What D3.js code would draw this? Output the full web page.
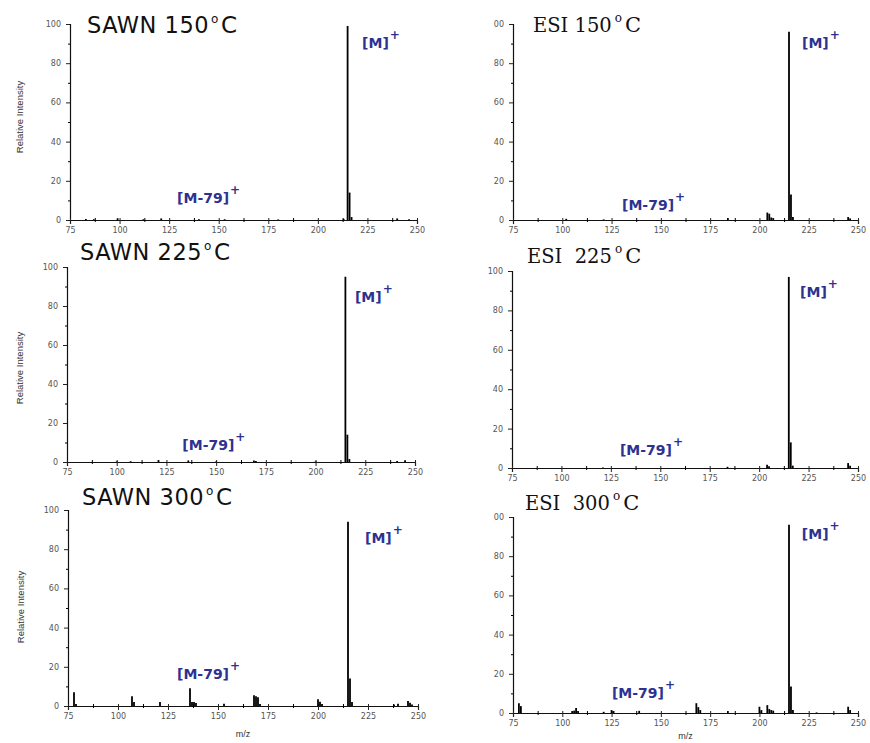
<!DOCTYPE html>
<html><head><meta charset="utf-8">
<script src="https://cdn.jsdelivr.net/npm/d3@7"></script>
<style>body{margin:0;background:#fff}svg{display:block}</style>
</head><body>
<svg id="c" width="870" height="743"></svg>
<script>
// ---- data ----
const xTicks = [75, 100, 125, 150, 175, 200, 225, 250];
const yTicks = [0, 20, 40, 60, 80, 100];
const panelNames = ["SAWN 150", "ESI 150", "SAWN 225", "ESI  225", "SAWN 300", "ESI  300"];
const labelM = "[M]";
const labelM79 = "[M-79]";
// peaks: [m/z, relative intensity]
const sawn150 = [[83,0.5],[87,0.4],[99,0.9],[112,0.4],[121,0.8],[140,0.4],[153,0.4],[180,0.3],[213,0.6],[215,99],[216,14],[217,1.5],[240,0.8],[246,0.4]];
const esi150  = [[102,0.6],[121,0.3],[184,1.0],[204,3.8],[205,3.2],[206,1.3],[207,1.0],[215,96],[216,13],[217,1.5],[245,1.5],[246,0.8]];
const sawn225 = [[100,0.3],[107,0.4],[121,1.0],[136,0.8],[150,0.3],[169,0.8],[170,0.5],[200,0.3],[215,95],[216,14],[217,1.5],[241,0.5],[245,0.9]];
const esi225  = [[121,0.3],[184,0.6],[204,1.6],[205,0.9],[215,97],[216,13],[217,1.2],[245,2.5],[246,1.2]];
const sawn300 = [[78,7],[79,1],[107,5],[108,2],[121,2],[136,9],[137,2],[138,2],[139,1.5],[153,1.2],[168,5.5],[169,5],[170,4.5],[171,1],[200,3.5],[201,2.2],[202,1],[215,94],[216,14],[217,2],[238,0.8],[240,1.2],[245,2.5],[246,1.6],[247,0.8]];
const esi300  = [[78,5],[79,3.5],[105,1],[106,1.2],[107,2.5],[108,1],[121,0.6],[125,1.5],[126,1],[139,1.1],[168,5],[169,3],[170,1.5],[184,1],[200,3.2],[201,1.5],[204,4],[205,2],[206,1.5],[207,1.2],[215,96],[216,13.5],[217,1.5],[229,0.3],[245,3.2],[246,1.5]];
const spectra = [sawn150, esi150, sawn225, esi225, sawn300, esi300];

// ---- layout (pixels / styling) ----
const layout = [
  {x0:70,  x1:417, yTop:24,  yBot:220, tx:87,  ty:33,  serif:false, m:[222.3,88], m79:[129,8.7],   ylab:117, ylx:20, xlab:null, clip:0},
  {x0:513, x1:858, yTop:24,  yBot:220, tx:533, ty:32,  serif:true,  m:[221.6,88], m79:[130.3,5],   ylab:null, xlab:null, clip:494},
  {x0:67,  x1:415, yTop:267, yBot:462, tx:80,  ty:260, serif:false, m:[219.8,82], m79:[133,6],     ylab:368, ylx:20, xlab:null, clip:0},
  {x0:512, x1:858, yTop:271, yBot:468, tx:527, ty:263, serif:true,  m:[220.7,87], m79:[129.6,6.6], ylab:null, xlab:null, clip:0},
  {x0:68,  x1:418, yTop:510, yBot:706, tx:82,  ty:505, serif:false, m:[223.5,83], m79:[129.5,14],  ylab:607, ylx:21, xlab:737, clip:0},
  {x0:513, x1:858, yTop:517, yBot:713, tx:525, ty:510, serif:true,  m:[221.5,89], m79:[125.2,7.6], ylab:null, xlab:739, clip:494}
];

const svg = d3.select("#c");
const navy = "#2d3190";
const tickFont = "Verdana, 'DejaVu Sans', sans-serif";

layout.forEach((L, i) => {
  const g0 = svg.append("g");
  if (L.clip) {
    svg.append("clipPath").attr("id", "clip" + i)
      .append("rect").attr("x", L.clip).attr("y", 0).attr("width", 870).attr("height", 743);
    g0.attr("clip-path", `url(#clip${i})`);
  }
  const x = d3.scaleLinear().domain([75, 250]).range([L.x0, L.x1]);
  const y = d3.scaleLinear().domain([0, 100]).range([L.yBot, L.yTop]);

  // y axis
  const ya = g0.append("g").attr("transform", `translate(${L.x0},0)`)
    .call(d3.axisLeft(y).tickValues(yTicks).tickSize(4).tickPadding(5));
  ya.selectAll("text").attr("font-size", 8).attr("font-family", tickFont).attr("fill", "#555");
  ya.select(".domain").attr("stroke", "#111").attr("stroke-width", 1.2);
  ya.selectAll(".tick line").attr("stroke", "#222");
  g0.append("g").attr("transform", `translate(${L.x0},0)`)
    .call(d3.axisLeft(y).tickValues([10,30,50,70,90]).tickSize(2).tickFormat(""))
    .select(".domain").remove();

  // x axis
  const xa = g0.append("g").attr("transform", `translate(0,${L.yBot})`)
    .call(d3.axisBottom(x).tickValues(xTicks).tickSize(4).tickPadding(3));
  xa.selectAll("text").attr("font-size", 8).attr("font-family", tickFont).attr("fill", "#555");
  xa.select(".domain").attr("stroke", "#111").attr("stroke-width", 1.2);
  xa.selectAll(".tick line").attr("y1", -2).attr("stroke", "#222");
  g0.append("g").attr("transform", `translate(0,${L.yBot})`)
    .call(d3.axisBottom(x).tickValues([87.5,112.5,137.5,162.5,187.5,212.5,237.5]).tickSize(2).tickFormat(""))
    .call(s => s.selectAll(".tick line").attr("y1", -2))
    .select(".domain").remove();

  // spectrum sticks
  g0.append("g").selectAll("line").data(spectra[i]).join("line")
    .attr("x1", d => x(d[0])).attr("x2", d => x(d[0]))
    .attr("y1", y(0)).attr("y2", d => y(d[1]))
    .attr("stroke", "#000").attr("stroke-width", 1.8);

  // title
  const t = g0.append("text").attr("x", L.tx).attr("y", L.ty)
    .attr("font-family", L.serif ? "'DejaVu Serif', serif" : "'DejaVu Sans', Verdana, sans-serif")
    .attr("font-size", L.serif ? 19.5 : 22.5).attr("fill", "#111")
    .attr("letter-spacing", L.serif ? 0 : 0.5)
    .style("white-space", "pre");
  t.append("tspan").text(panelNames[i]);
  t.append("tspan").text("o").attr("font-size", 12).attr("dy", -10).attr("dx", L.serif ? 3 : 2);
  t.append("tspan").text("C").attr("dy", 10).attr("dx", L.serif ? 3 : 2).attr("font-size", L.serif ? 21 : 23);

  // annotations
  [[labelM, L.m], [labelM79, L.m79]].forEach(([lab, pos]) => {
    const a = g0.append("text").attr("x", x(pos[0])).attr("y", y(pos[1]))
      .attr("font-family", "'DejaVu Sans', Verdana, sans-serif").attr("font-weight", "bold")
      .attr("font-size", 14).attr("fill", navy);
    a.append("tspan").text(lab);
    a.append("tspan").text("+").attr("font-size", 12).attr("dy", -9).attr("dx", 1);
  });

  // axis titles
  if (L.ylab !== null) {
    g0.append("text").attr("transform", `translate(${L.ylx},${L.ylab}) rotate(-90)`)
      .attr("text-anchor", "middle").attr("dy", "0.35em")
      .attr("font-family", "'Liberation Sans', Arial, sans-serif").attr("font-size", 9.5)
      .attr("fill", "#333").text("Relative Intensity");
  }
  if (L.xlab !== null) {
    g0.append("text").attr("x", (L.x0 + L.x1) / 2).attr("y", L.xlab)
      .attr("text-anchor", "middle")
      .attr("font-family", "'Liberation Sans', Arial, sans-serif").attr("font-size", 9)
      .attr("fill", "#333").text("m/z");
  }
});
</script>
</body></html>
